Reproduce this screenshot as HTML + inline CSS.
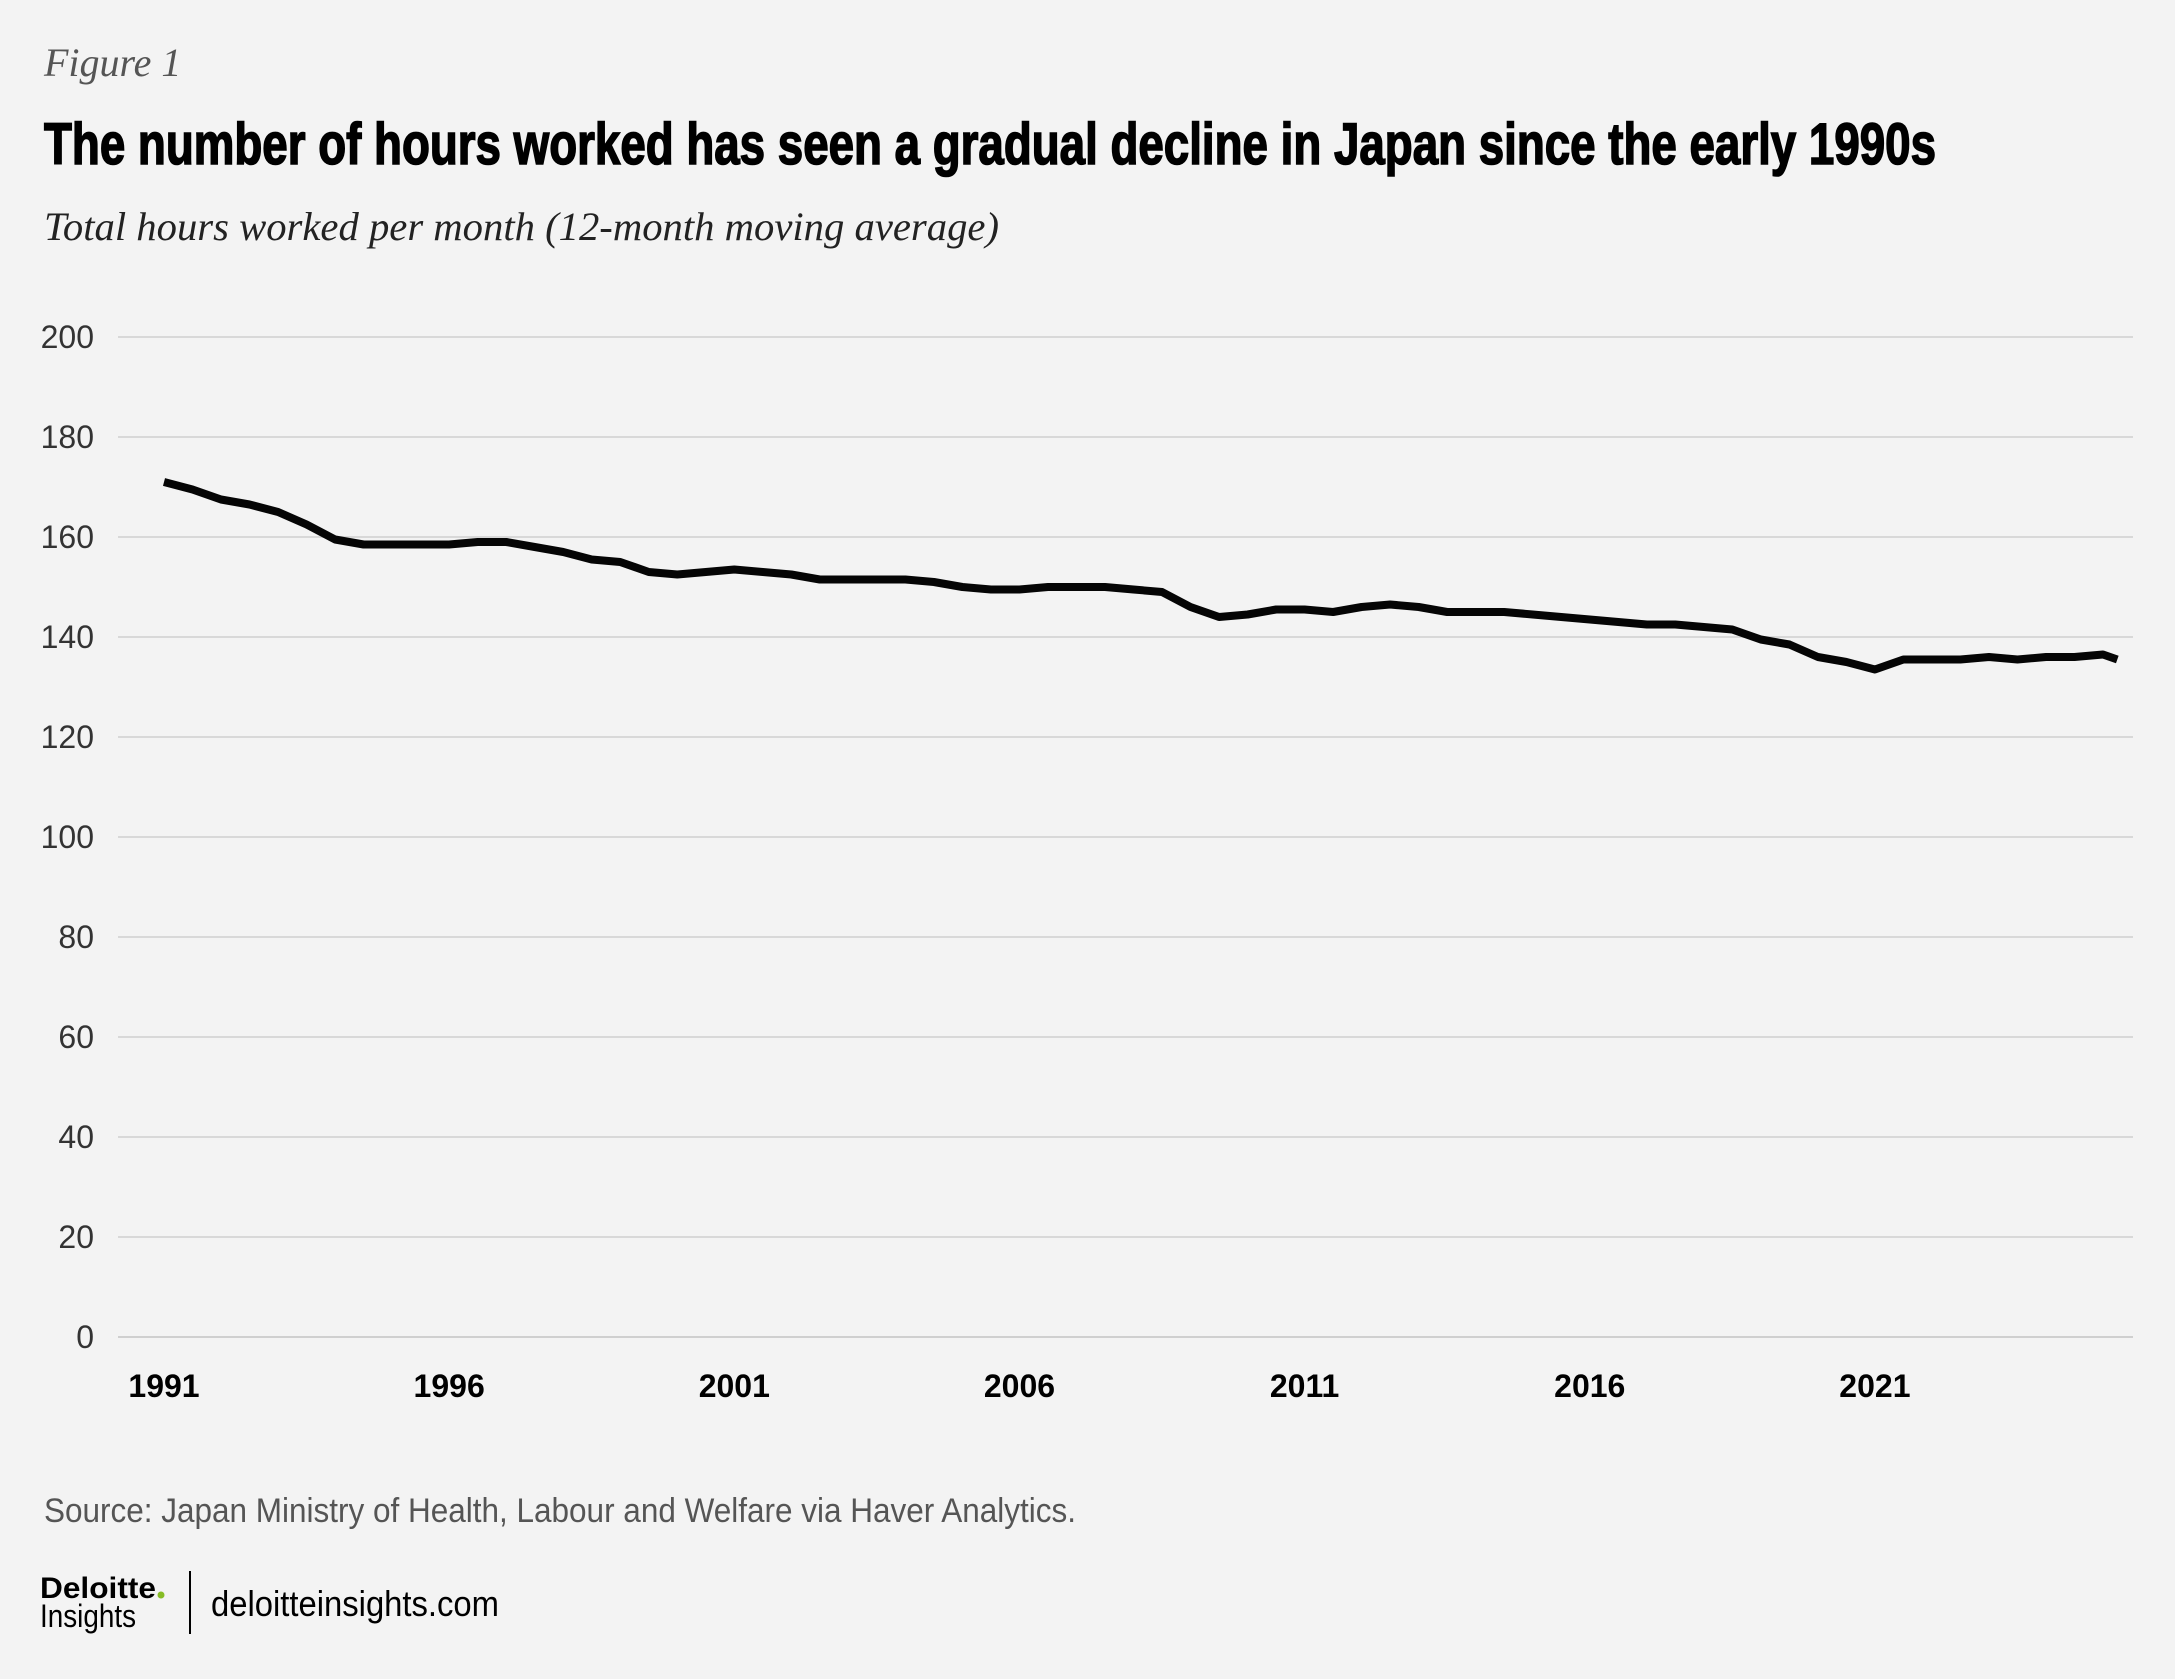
<!DOCTYPE html>
<html><head><meta charset="utf-8"><style>
html,body{margin:0;padding:0;background:#f3f3f3;}
svg{display:block;}
</style></head><body>
<svg id="chart" width="2175" height="1679" viewBox="0 0 2175 1679" xmlns="http://www.w3.org/2000/svg">
<rect width="2175" height="1679" fill="#f3f3f3"/>
<text x="44" y="76" font-family="Liberation Serif, serif" font-style="italic" font-size="40" fill="#555">Figure 1</text>
<text x="44" y="164" font-family="Liberation Sans Narrow, Liberation Sans, sans-serif" font-weight="bold" font-size="58" fill="#000" stroke="#000" stroke-width="1.6" textLength="1892" lengthAdjust="spacingAndGlyphs">The number of hours worked has seen a gradual decline in Japan since the early 1990s</text>
<text x="44" y="240" font-family="Liberation Serif, serif" font-style="italic" font-size="40" fill="#222" textLength="955" lengthAdjust="spacingAndGlyphs">Total hours worked per month (12-month moving average)</text>
<g id="grid"></g>
<g id="ylabels"></g>
<g id="xlabels"></g>
<path id="series" fill="none" stroke="#050505" stroke-width="8" stroke-linejoin="round"/>
<text x="44" y="1522" font-family="Liberation Sans Narrow, Liberation Sans, sans-serif" font-size="34" fill="#555" textLength="1032" lengthAdjust="spacingAndGlyphs">Source: Japan Ministry of Health, Labour and Welfare via Haver Analytics.</text>
<g>
<text x="40" y="1598" font-family="Liberation Sans, sans-serif" font-weight="bold" font-size="30" fill="#000" textLength="116" lengthAdjust="spacingAndGlyphs">Deloitte</text>
<circle cx="161" cy="1595" r="3.5" fill="#86bc25"/>
<text x="40" y="1627" font-family="Liberation Sans Narrow, Liberation Sans, sans-serif" font-size="32" fill="#000" textLength="96" lengthAdjust="spacingAndGlyphs">Insights</text>
</g>
<line x1="190" y1="1571" x2="190" y2="1634" stroke="#000" stroke-width="2"/>
<text x="211" y="1616" font-family="Liberation Sans Narrow, Liberation Sans, sans-serif" font-size="36" fill="#000" textLength="288" lengthAdjust="spacingAndGlyphs">deloitteinsights.com</text>
</svg>
<script>
const yTicks = [0,20,40,60,80,100,120,140,160,180,200];
const xTickYears = [1991,1996,2001,2006,2011,2016,2021];
const years = [1991,1991.5,1992,1992.5,1993,1993.5,1994,1994.5,1995,1995.5,1996,1996.5,1997,1997.5,1998,1998.5,1999,1999.5,2000,2000.5,2001,2001.5,2002,2002.5,2003,2003.5,2004,2004.5,2005,2005.5,2006,2006.5,2007,2007.5,2008,2008.5,2009,2009.5,2010,2010.5,2011,2011.5,2012,2012.5,2013,2013.5,2014,2014.5,2015,2015.5,2016,2016.5,2017,2017.5,2018,2018.5,2019,2019.5,2020,2020.5,2021,2021.5,2022,2022.5,2023,2023.5,2024,2024.5,2025,2025.25];
const hours = [171,169.5,167.5,166.5,165,162.5,159.5,158.5,158.5,158.5,158.5,159,159,158,157,155.5,155,153,152.5,153,153.5,153,152.5,151.5,151.5,151.5,151.5,151,150,149.5,149.5,150,150,150,149.5,149,146,144,144.5,145.5,145.5,145,146,146.5,146,145,145,145,144.5,144,143.5,143,142.5,142.5,142,141.5,139.5,138.5,136,135,133.5,135.5,135.5,135.5,136,135.5,136,136,136.5,135.5];

const NS = 'http://www.w3.org/2000/svg';
const x0 = 118, x1 = 2133, yBase = 1337, yTop = 337;
function xScale(yr){ return 164 + (yr - 1991) * 57.03; }
function yScale(v){ return yBase - (v - 0) / 200 * (yBase - yTop); }

const grid = document.getElementById('grid');
const ylab = document.getElementById('ylabels');
yTicks.forEach(t => {
  const l = document.createElementNS(NS,'line');
  l.setAttribute('x1', x0); l.setAttribute('x2', x1);
  l.setAttribute('y1', yScale(t)); l.setAttribute('y2', yScale(t));
  l.setAttribute('stroke', t === 0 ? '#cfcfcf' : '#d8d8d8');
  l.setAttribute('stroke-width', '2');
  
  
  grid.appendChild(l);
  const tx = document.createElementNS(NS,'text');
  tx.setAttribute('x', 94);
  tx.setAttribute('y', yScale(t) + 11);
  tx.setAttribute('text-anchor', 'end');
  tx.setAttribute('font-family', 'Liberation Sans Narrow, Liberation Sans, sans-serif');
  tx.setAttribute('font-size', '32');
  tx.setAttribute('fill', '#333');
  tx.textContent = t;
  
  
  ylab.appendChild(tx);
});

const xlab = document.getElementById('xlabels');
xTickYears.forEach(yr => {
  const tx = document.createElementNS(NS,'text');
  tx.setAttribute('x', xScale(yr));
  tx.setAttribute('y', 1397);
  tx.setAttribute('text-anchor', 'middle');
  tx.setAttribute('font-family', 'Liberation Sans Narrow, Liberation Sans, sans-serif');
  tx.setAttribute('font-weight', 'bold');
  tx.setAttribute('font-size', '32');
  tx.setAttribute('fill', '#000');
  tx.textContent = yr;
  
  
  xlab.appendChild(tx);
});

let d = '';
years.forEach((yr, i) => {
  d += (i === 0 ? 'M' : 'L') + xScale(yr).toFixed(1) + ',' + yScale(hours[i]).toFixed(1) + ' ';
});
document.getElementById('series').setAttribute('d', d);
</script>
</body></html>
